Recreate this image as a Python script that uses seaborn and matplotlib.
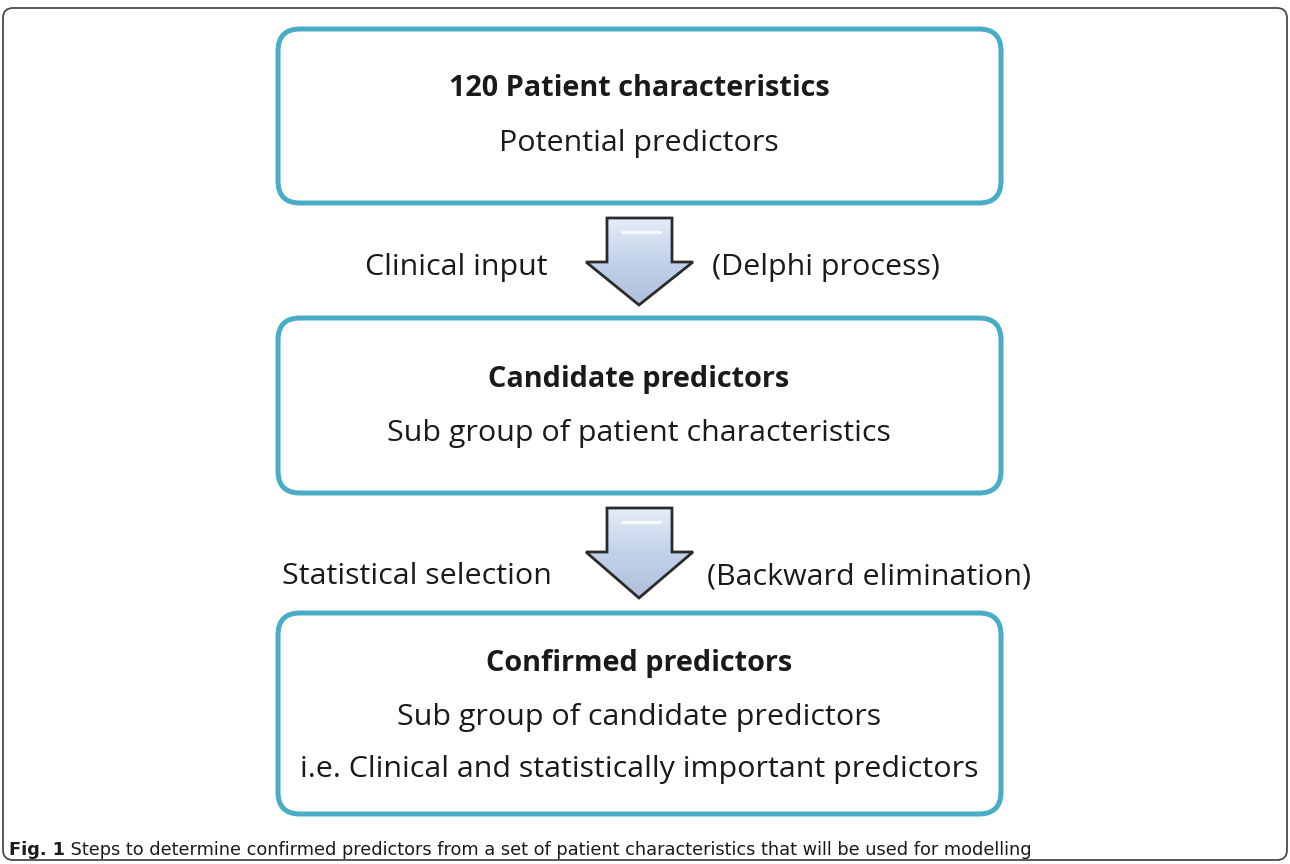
import numpy as np
import seaborn as sns
import matplotlib.pyplot as plt
from matplotlib.patches import FancyBboxPatch, Polygon

# flowchart content
box_titles = ["120 Patient characteristics", "Candidate predictors", "Confirmed predictors"]
box_lines = [
    ["Potential predictors"],
    ["Sub group of patient characteristics"],
    ["Sub group of candidate predictors",
     "i.e. Clinical and statistically important predictors"],
]
left_labels = ["Clinical input", "Statistical selection"]
right_labels = ["(Delphi process)", "(Backward elimination)"]
caption_bold = "Fig. 1"
caption_text = " Steps to determine confirmed predictors from a set of patient characteristics that will be used for modelling"

sns.set_theme(style="white")
plt.rcParams['font.family'] = ['Open Sans', 'DejaVu Sans']

fig = plt.figure(figsize=(12.9, 8.64), dpi=100)
ax = fig.add_axes([0, 0, 1, 1])
ax.set_xlim(0, 1290)
ax.set_ylim(864, 0)
ax.axis('off')

# outer frame
frame = FancyBboxPatch((3, 8), 1284, 852, boxstyle="round,pad=0,rounding_size=10",
                       fc='white', ec='#4a4a4a', lw=1.3)
ax.add_patch(frame)

# boxes (x0, y0, x1, y1) in pixels
boxes = [(278, 29, 1001, 203), (278, 318, 1001, 493), (278, 613, 1001, 814)]
box_color = '#4bacc6'
for (x0, y0, x1, y1) in boxes:
    ax.add_patch(FancyBboxPatch((x0, y0), x1 - x0, y1 - y0,
                                boxstyle="round,pad=0,rounding_size=22",
                                fc='white', ec=box_color, lw=3.6))

fs = 21.9
xc = 639
title_y = [89, 379, 664]
line_y = [[144], [434], [718, 770]]
for i in range(3):
    ax.text(xc, title_y[i], box_titles[i], ha='center', va='center',
            fontsize=20.8, fontweight='bold', color='#1a1a1a')
    for txt, yy in zip(box_lines[i], line_y[i]):
        ax.text(xc, yy, txt, ha='center', va='center', fontsize=fs, color='#1a1a1a')

# block arrows
arrows = [(218, 262, 305), (508, 552, 598)]
label_y = [267, 577]
left_x = [456, 417]
right_x = [826, 869]
grad = np.linspace(0, 1, 100).reshape(-1, 1)
cmap = sns.blend_palette(['#e4ecf7', '#c3d2ea', '#aebfdc'], as_cmap=True)
for k, (ytop, ywing, ytip) in enumerate(arrows):
    pts = [(607, ytop), (672, ytop), (672, ywing), (693, ywing), (639, ytip),
           (586, ywing), (607, ywing)]
    poly = Polygon(pts, closed=True, fc='none', ec='#2b2b2b', lw=2, joinstyle='miter', zorder=3)
    im = ax.imshow(grad, extent=(586, 693, ytip, ytop), cmap=cmap, aspect='auto', zorder=2)
    ax.add_patch(poly)
    im.set_clip_path(poly)
    # small highlight
    ax.plot([622, 660], [ytop + 14, ytop + 14], color='white', lw=2.5, alpha=0.8, zorder=4)
    ax.text(left_x[k], label_y[k], left_labels[k], ha='center', va='center',
            fontsize=fs, color='#1a1a1a')
    ax.text(right_x[k], label_y[k], right_labels[k], ha='center', va='center',
            fontsize=fs, color='#1a1a1a')

# caption
cap_font = ['Liberation Sans Narrow', 'DejaVu Sans']
t = ax.text(9, 850, caption_bold, ha='left', va='center', fontsize=12.8,
            fontweight='bold', family=cap_font, color='#1a1a1a')
fig.canvas.draw()
bb = t.get_window_extent()
x_next = bb.x1
ax.text(x_next, 850, caption_text, ha='left', va='center', fontsize=12.8,
        family=cap_font, color='#1a1a1a')

fig.savefig('out.png', dpi=100)
